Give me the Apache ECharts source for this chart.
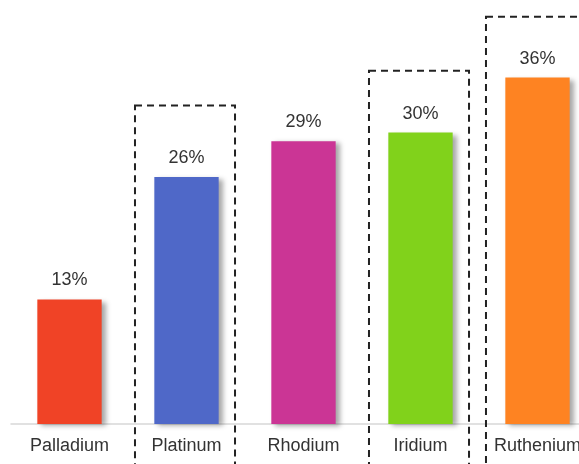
<!DOCTYPE html>
<html>
<head>
<meta charset="utf-8">
<script src="https://cdn.jsdelivr.net/npm/echarts@6/dist/echarts.min.js"></script>
<style>
  html, body { margin: 0; padding: 0; background: #fff; }
  #chart { width: 579px; height: 464px; }
</style>
</head>
<body>
<div id="chart"></div>
<script>
// metals and their shares (%)
const metals = ['Palladium', 'Platinum', 'Rhodium', 'Iridium', 'Ruthenium']
const shares = [12.9, 25.6, 29.3, 30.2, 35.9]
const barColors = ['#F04326', '#4F68C8', '#CB3595', '#81D21B', '#FE8322']
// top of the dashed highlight boxes (same units as shares), null = no box
const boxTops = [null, 33.0, null, 36.6, 42.2]
const boxBottom = -6

const chart = echarts.init(document.getElementById('chart'))

const boxData = []
boxTops.forEach((v, i) => { if (v != null) boxData.push([i, v]) })

chart.setOption({
  animation: false,
  grid: { left: 11, right: -17, top: 38, bottom: 40, outerBoundsMode: 'none' },
  xAxis: {
    type: 'category',
    data: metals,
    axisTick: { show: false },
    axisLine: { lineStyle: { color: '#d8d8d8', width: 1.5 } },
    axisLabel: { color: '#333', fontSize: 18, fontFamily: 'Liberation Sans, Arial', margin: 13 },
  },
  yAxis: { type: 'value', min: 0, max: 40, show: false },
  series: [
    {
      type: 'bar',
      barWidth: '55%',
      data: shares.map((v, i) => ({ value: v, itemStyle: { color: barColors[i] } })),
      itemStyle: {
        shadowColor: 'rgba(0,0,0,0.35)',
        shadowBlur: 5,
        shadowOffsetX: 4,
        shadowOffsetY: 2,
      },
      label: {
        show: true,
        position: 'top',
        distance: 10,
        color: '#333',
        fontSize: 18,
        fontFamily: 'Liberation Sans, Arial',
        formatter: p => Math.round(p.value) + '%',
      },
    },
    {
      type: 'custom',
      silent: true,
      clip: false,
      data: boxData,
      renderItem(params, api) {
        const top = api.coord([api.value(0), api.value(1)])
        const bot = api.coord([api.value(0), boxBottom])
        const w = api.size([1, 0])[0] * 0.855
        return {
          type: 'rect',
          shape: { x: top[0] - w / 2 - 1.5, y: top[1], width: w, height: bot[1] - top[1] },
          style: { fill: 'none', stroke: '#222', lineWidth: 2, lineDash: [7, 5] },
        }
      },
    },
  ],
})
</script>
</body>
</html>
